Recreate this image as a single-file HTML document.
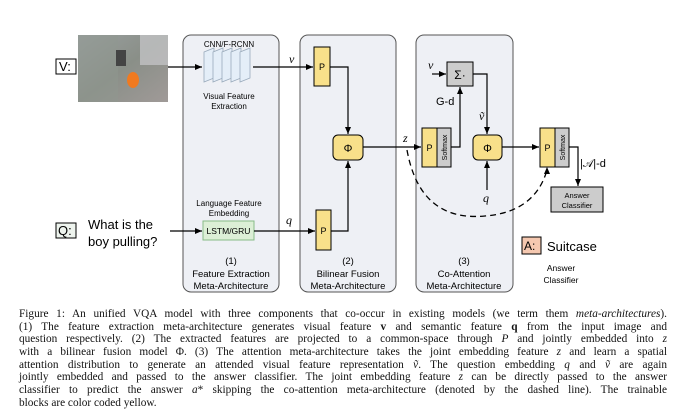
<!DOCTYPE html>
<html><head><meta charset="utf-8"><style>
html,body{margin:0;padding:0;background:#fff;}
body{width:675px;height:407px;overflow:hidden;position:relative;}
svg{position:absolute;left:0;top:0;}
.cap{position:absolute;left:19px;top:308px;width:648px;font-family:"Liberation Serif",serif;font-size:11.3px;line-height:12.7px;color:#111;}
.cap div{text-align:justify;text-align-last:justify;white-space:nowrap;height:12.7px;}
.cap div.l{text-align-last:left;}
</style></head><body>
<svg width="675" height="300" viewBox="0 0 675 300" font-family="Liberation Sans, sans-serif">
<defs>
<marker id="ah" markerWidth="8" markerHeight="8" refX="7" refY="4" orient="auto" markerUnits="userSpaceOnUse"><path d="M0,1 L7,4 L0,7 z" fill="#000"/></marker>
<linearGradient id="img" x1="0" y1="0" x2="1" y2="1"><stop offset="0" stop-color="#9aa0a0"/><stop offset="0.5" stop-color="#8a8f88"/><stop offset="1" stop-color="#a09a98"/></linearGradient>
</defs>
<rect x="183" y="35" width="96" height="257" rx="8" fill="#eef0f5" stroke="#555" stroke-width="1"/>
<rect x="300" y="35" width="96" height="257" rx="8" fill="#eef0f5" stroke="#555" stroke-width="1"/>
<rect x="416" y="35" width="97" height="257" rx="8" fill="#eef0f5" stroke="#555" stroke-width="1"/>
<rect x="78" y="35" width="90" height="67" fill="url(#img)"/>
<rect x="78" y="35" width="40" height="67" fill="#8f9890" opacity="0.5"/>
<rect x="140" y="35" width="28" height="30" fill="#c9c9cc" opacity="0.7"/>
<rect x="116" y="50" width="10" height="16" fill="#444"/>
<ellipse cx="133" cy="80" rx="6" ry="8" fill="#f07a20"/>
<rect x="56" y="59" width="20" height="15" fill="#fff" stroke="#000"/>
<text x="59" y="71" font-size="13">V:</text>
<line x1="168" y1="67" x2="202" y2="67" stroke="#000" stroke-width="1.2" marker-end="url(#ah)"/>
<g fill="#e4eef8" stroke="#9ab" stroke-width="0.8">
<path d="M204,52 l10,-4 v30 l-10,4 z"/><path d="M213,52 l10,-4 v30 l-10,4 z"/><path d="M222,52 l10,-4 v30 l-10,4 z"/><path d="M231,52 l10,-4 v30 l-10,4 z"/><path d="M240,52 l10,-4 v30 l-10,4 z"/>
</g>
<text x="229" y="47" font-size="8" text-anchor="middle">CNN/F-RCNN</text>
<text x="229" y="99" font-size="8" text-anchor="middle">Visual Feature</text>
<text x="229" y="109" font-size="8" text-anchor="middle">Extraction</text>
<line x1="253" y1="67" x2="313" y2="67" stroke="#000" stroke-width="1.2" marker-end="url(#ah)"/>
<text x="289" y="63" font-size="12" font-style="italic" font-family="Liberation Serif,serif">v</text>
<rect x="56" y="223" width="20" height="15" fill="#eef4ee" stroke="#000"/>
<text x="58" y="235" font-size="13">Q:</text>
<text x="88" y="229" font-size="13">What is the</text>
<text x="88" y="246" font-size="13">boy pulling?</text>
<line x1="170" y1="231" x2="202" y2="231" stroke="#000" stroke-width="1.2" marker-end="url(#ah)"/>
<text x="229" y="206" font-size="8" text-anchor="middle">Language Feature</text>
<text x="229" y="216" font-size="8" text-anchor="middle">Embedding</text>
<rect x="203" y="221" width="51" height="19" fill="#dcefd6" stroke="#8b8" stroke-width="1"/>
<text x="228.5" y="234" font-size="8.5" text-anchor="middle">LSTM/GRU</text>
<line x1="254" y1="231" x2="315" y2="231" stroke="#000" stroke-width="1.2" marker-end="url(#ah)"/>
<text x="286" y="224" font-size="12" font-style="italic" font-family="Liberation Serif,serif">q</text>
<text x="231" y="264" font-size="9.5" text-anchor="middle">(1)</text>
<text x="231" y="277" font-size="9.5" text-anchor="middle">Feature Extraction</text>
<text x="231" y="289" font-size="9.5" text-anchor="middle">Meta-Architecture</text>
<rect x="314" y="47" width="16" height="39" fill="#f8e08a" stroke="#000"/>
<text x="322" y="70" font-size="9" text-anchor="middle">P</text>
<rect x="316" y="210" width="15" height="40" fill="#f8e08a" stroke="#000"/>
<text x="323.5" y="234" font-size="9" text-anchor="middle">P</text>
<polyline points="330,67 348,67 348,134" fill="none" stroke="#000" stroke-width="1.2" marker-end="url(#ah)"/>
<polyline points="331,231 348,231 348,161" fill="none" stroke="#000" stroke-width="1.2" marker-end="url(#ah)"/>
<rect x="333" y="135" width="30" height="25" rx="5" fill="#f8e08a" stroke="#000"/>
<text x="348" y="152" font-size="11" text-anchor="middle">Φ</text>
<text x="348" y="264" font-size="9.5" text-anchor="middle">(2)</text>
<text x="348" y="277" font-size="9.5" text-anchor="middle">Bilinear Fusion</text>
<text x="348" y="289" font-size="9.5" text-anchor="middle">Meta-Architecture</text>
<line x1="363" y1="147" x2="421" y2="147" stroke="#000" stroke-width="1.2" marker-end="url(#ah)"/>
<text x="403" y="142" font-size="12" font-style="italic" font-family="Liberation Serif,serif">z</text>
<rect x="422" y="128" width="15" height="39" fill="#f8e08a" stroke="#000"/>
<text x="429.5" y="151" font-size="9" text-anchor="middle">P</text>
<rect x="437" y="128" width="14" height="39" fill="#ccc" stroke="#000"/>
<text transform="translate(447,147.5) rotate(-90)" font-size="7" text-anchor="middle">Softmax</text>
<polyline points="451,147 460,147 460,87" fill="none" stroke="#000" stroke-width="1.2" marker-end="url(#ah)"/>
<rect x="447" y="62" width="26" height="24" fill="#ccc" stroke="#000"/>
<text x="460" y="79" font-size="12" text-anchor="middle">Σ·</text>
<line x1="432" y1="74" x2="446" y2="74" stroke="#000" stroke-width="1.2" marker-end="url(#ah)"/>
<text x="428" y="69" font-size="12" font-style="italic" font-family="Liberation Serif,serif">v</text>
<text x="436" y="105" font-size="11">G-d</text>
<polyline points="473,74 487,74 487,134" fill="none" stroke="#000" stroke-width="1.2" marker-end="url(#ah)"/>
<text x="479" y="120" font-size="12" font-style="italic" font-family="Liberation Serif,serif">ṽ</text>
<rect x="473" y="135" width="29" height="25" rx="5" fill="#f8e08a" stroke="#000"/>
<text x="487.5" y="152" font-size="11" text-anchor="middle">Φ</text>
<line x1="487" y1="190" x2="487" y2="161" stroke="#000" stroke-width="1.2" marker-end="url(#ah)"/>
<text x="483" y="202" font-size="12" font-style="italic" font-family="Liberation Serif,serif">q</text>
<line x1="502" y1="147" x2="539" y2="147" stroke="#000" stroke-width="1.2" marker-end="url(#ah)"/>
<text x="464" y="264" font-size="9.5" text-anchor="middle">(3)</text>
<text x="464" y="277" font-size="9.5" text-anchor="middle">Co-Attention</text>
<text x="464" y="289" font-size="9.5" text-anchor="middle">Meta-Architecture</text>
<rect x="540" y="128" width="15" height="39" fill="#f8e08a" stroke="#000"/>
<text x="547.5" y="151" font-size="9" text-anchor="middle">P</text>
<rect x="555" y="128" width="14" height="39" fill="#ccc" stroke="#000"/>
<text transform="translate(565,147.5) rotate(-90)" font-size="7" text-anchor="middle">Softmax</text>
<polyline points="569,147 578,147 578,186" fill="none" stroke="#000" stroke-width="1.2" marker-end="url(#ah)"/>
<text x="580" y="167" font-size="11">|𝒜|-d</text>
<rect x="551" y="187" width="52" height="25" fill="#ccc" stroke="#000"/>
<text x="577" y="198" font-size="7.5" text-anchor="middle">Answer</text>
<text x="577" y="208" font-size="7.5" text-anchor="middle">Classifier</text>
<path d="M407,150 Q420,222 485,216 Q535,212 547,170" fill="none" stroke="#000" stroke-width="1.3" stroke-dasharray="6,4"/>
<path d="M544,174 l3,-7 l3,7 z" fill="#000"/>
<rect x="522" y="237" width="19" height="17" fill="#f5c8b0" stroke="#000"/>
<text x="524" y="250" font-size="12">A:</text>
<text x="547" y="251" font-size="13">Suitcase</text>
<text x="561" y="271" font-size="8.5" text-anchor="middle">Answer</text>
<text x="561" y="283" font-size="8.5" text-anchor="middle">Classifier</text>
</svg>
<div class="cap">
<div>Figure 1: An unified VQA model with three components that co-occur in existing models (we term them <i>meta-architectures</i>).</div>
<div>(1) The feature extraction meta-architecture generates visual feature <b>v</b> and semantic feature <b>q</b> from the input image and</div>
<div>question respectively. (2) The extracted features are projected to a common-space through <i>P</i> and jointly embedded into <i>z</i></div>
<div>with a bilinear fusion model Φ. (3) The attention meta-architecture takes the joint embedding feature <i>z</i> and learn a spatial</div>
<div>attention distribution to generate an attended visual feature representation <i>ṽ</i>. The question embedding <i>q</i> and <i>ṽ</i> are again</div>
<div>jointly embedded and passed to the answer classifier. The joint embedding feature <i>z</i> can be directly passed to the answer</div>
<div>classifier to predict the answer <i>a</i>* skipping the co-attention meta-architecture (denoted by the dashed line). The trainable</div>
<div class="l">blocks are color coded yellow.</div>
</div>
</body></html>
